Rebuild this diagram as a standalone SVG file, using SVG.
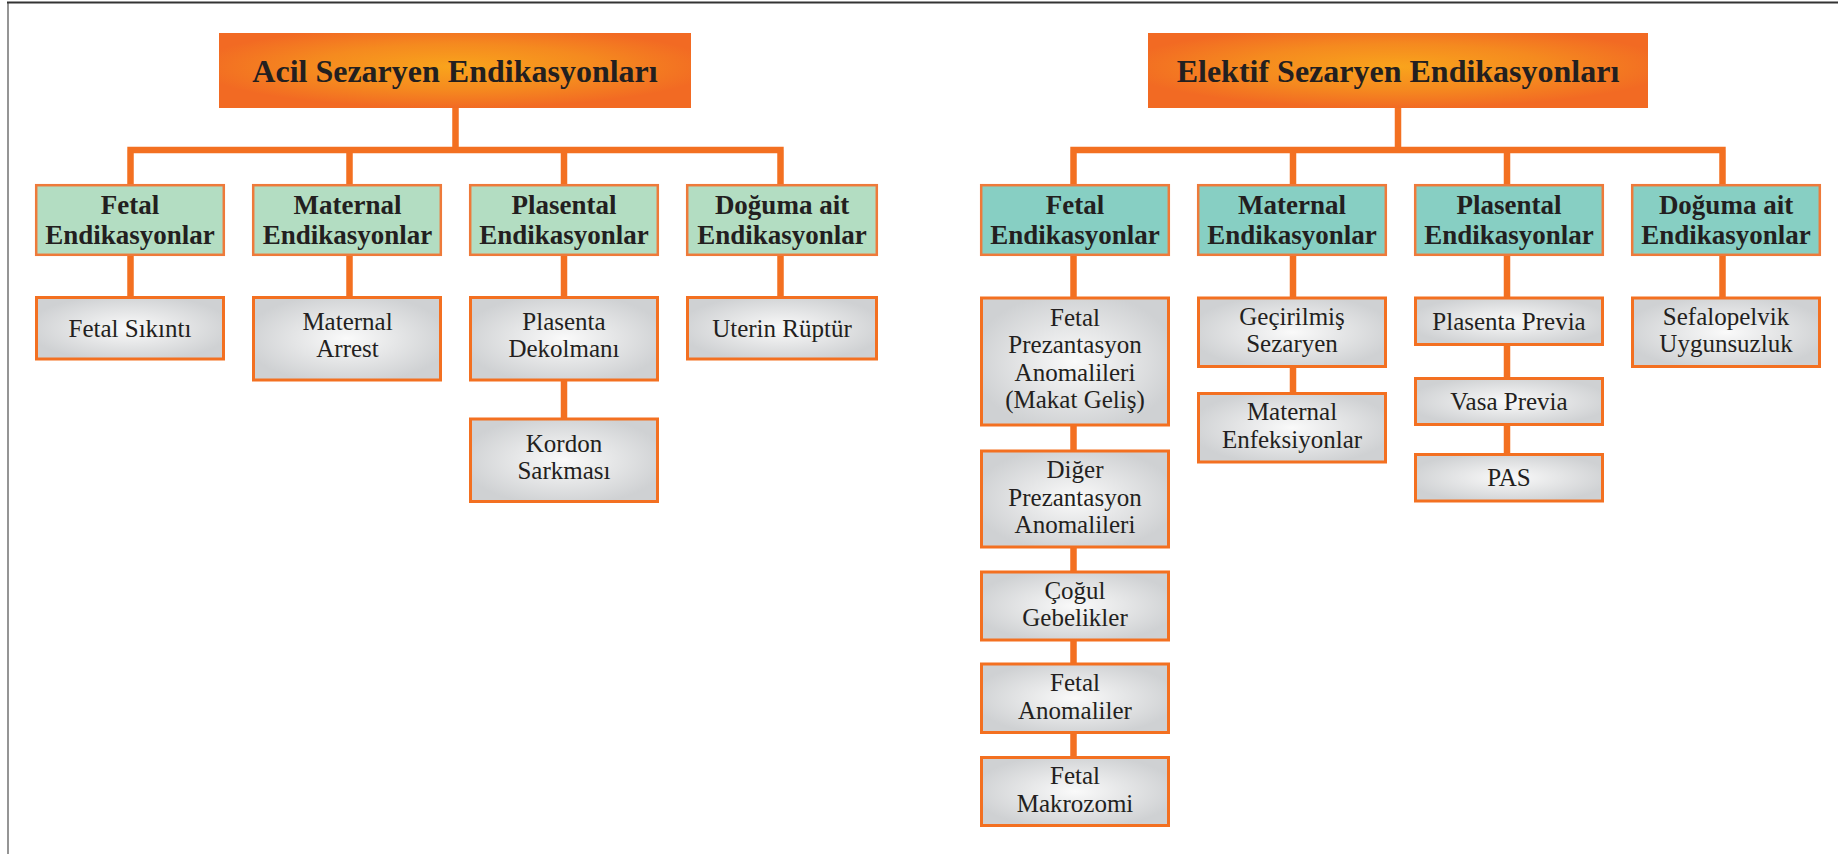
<svg xmlns="http://www.w3.org/2000/svg" width="1838" height="854" viewBox="0 0 1838 854">
  <defs>
    <radialGradient id="gTitle" cx="0.5" cy="0.45" r="0.55">
      <stop offset="0" stop-color="#F9A41C"/>
      <stop offset="0.55" stop-color="#F58A1F"/>
      <stop offset="1" stop-color="#F26A23"/>
    </radialGradient>
    <radialGradient id="gLeaf" cx="0.5" cy="0.5" r="0.55">
      <stop offset="0" stop-color="#FAFAFA"/>
      <stop offset="1" stop-color="#CFD1D3"/>
    </radialGradient>
  </defs>
  <style>
    .conn { fill: none; stroke: #F37021; stroke-width: 6.5; stroke-linecap: butt; }
    text { font-family: 'Liberation Serif', Tinos, 'Times New Roman', 'DejaVu Serif', serif; fill: #231F20; text-anchor: middle; }
    .title rect { fill: url(#gTitle); }
    .title text { font-weight: bold; font-size: 32px; }
    .cat rect { stroke: #EE7A3A; stroke-width: 2.5; }
    .acil rect { fill: #B3DDC2; }
    .elektif rect { fill: #87CFC3; }
    .cat text { font-weight: bold; font-size: 27px; }
    .leaf rect { fill: url(#gLeaf); stroke: #F37021; stroke-width: 3; }
    .leaf text { font-size: 25px; }
  </style>

  <rect width="1838" height="854" fill="#FFFFFF"/>
  <!-- page frame -->
  <line x1="8" y1="2.5" x2="8" y2="854" stroke="#8A8A8A" stroke-width="1.8"/>
  <line x1="7" y1="2.5" x2="1838" y2="2.5" stroke="#333333" stroke-width="1.8"/>

  <g id="connectors">
    <!-- Acil tree -->
    <path class="conn" d="M455.5 108 V150 M127.3 150 H783.7 M130.5 150 V184 M349.5 150 V184 M564 150 V184 M780.5 150 V184 M130.5 256 V297 M349.5 256 V297 M564 256 V297 M780.5 256 V297 M564 381 V418"/>
    <!-- Elektif tree -->
    <path class="conn" d="M1398 108 V150 M1070.3 150 H1725.7 M1073.5 150 V184 M1293 150 V184 M1507 150 V184 M1722.5 150 V184 M1073.5 256 V297 M1293 256 V297 M1507 256 V297 M1722.5 256 V297 M1073.5 426 V450 M1073.5 548 V571 M1073.5 641 V663 M1073.5 733 V756 M1293 368 V392 M1507 346 V377 M1507 426 V453"/>
  </g>

  <!-- Acil Sezaryen -->
  <g id="acil-title" class="title">
    <rect x="219" y="33" width="472" height="75"/>
    <text x="455" y="81.5" font-family="Liberation Serif, serif">Acil Sezaryen Endikasyonları</text>
  </g>
  <g id="acil-fetal" class="cat acil">
    <rect x="36.2" y="185.2" width="187.6" height="69.6"/>
    <text x="130" y="214">Fetal</text>
    <text x="130" y="243.5">Endikasyonlar</text>
  </g>
  <g id="acil-maternal" class="cat acil">
    <rect x="253.2" y="185.2" width="187.6" height="69.6"/>
    <text x="347.5" y="214">Maternal</text>
    <text x="347.5" y="243.5">Endikasyonlar</text>
  </g>
  <g id="acil-plasental" class="cat acil">
    <rect x="470.2" y="185.2" width="187.6" height="69.6"/>
    <text x="564" y="214">Plasental</text>
    <text x="564" y="243.5">Endikasyonlar</text>
  </g>
  <g id="acil-doguma" class="cat acil">
    <rect x="687.2" y="185.2" width="189.6" height="69.6"/>
    <text x="782" y="214">Doğuma ait</text>
    <text x="782" y="243.5">Endikasyonlar</text>
  </g>
  <g id="fetal-sikinti" class="leaf">
    <rect x="36.5" y="297.5" width="187" height="61.5"/>
    <text x="130" y="337">Fetal Sıkıntı</text>
  </g>
  <g id="maternal-arrest" class="leaf">
    <rect x="253.5" y="297.5" width="187" height="82.5"/>
    <text x="347.5" y="330">Maternal</text>
    <text x="347.5" y="357">Arrest</text>
  </g>
  <g id="plasenta-dekolmani" class="leaf">
    <rect x="470.5" y="297.5" width="187" height="82.5"/>
    <text x="564" y="330">Plasenta</text>
    <text x="564" y="357">Dekolmanı</text>
  </g>
  <g id="kordon-sarkmasi" class="leaf">
    <rect x="470.5" y="419" width="187" height="82.5"/>
    <text x="564" y="451.5">Kordon</text>
    <text x="564" y="478.5">Sarkması</text>
  </g>
  <g id="uterin-ruptur" class="leaf">
    <rect x="687.5" y="297.5" width="189" height="61.5"/>
    <text x="782" y="337">Uterin Rüptür</text>
  </g>

  <!-- Elektif Sezaryen -->
  <g id="elektif-title" class="title">
    <rect x="1148" y="33" width="500" height="75"/>
    <text x="1398" y="81.5">Elektif Sezaryen Endikasyonları</text>
  </g>
  <g id="elektif-fetal" class="cat elektif">
    <rect x="981.2" y="185.2" width="187.6" height="69.6"/>
    <text x="1075" y="214">Fetal</text>
    <text x="1075" y="243.5">Endikasyonlar</text>
  </g>
  <g id="elektif-maternal" class="cat elektif">
    <rect x="1198.2" y="185.2" width="187.6" height="69.6"/>
    <text x="1292" y="214">Maternal</text>
    <text x="1292" y="243.5">Endikasyonlar</text>
  </g>
  <g id="elektif-plasental" class="cat elektif">
    <rect x="1415.2" y="185.2" width="187.6" height="69.6"/>
    <text x="1509" y="214">Plasental</text>
    <text x="1509" y="243.5">Endikasyonlar</text>
  </g>
  <g id="elektif-doguma" class="cat elektif">
    <rect x="1632.2" y="185.2" width="187.6" height="69.6"/>
    <text x="1726" y="214">Doğuma ait</text>
    <text x="1726" y="243.5">Endikasyonlar</text>
  </g>
  <g id="fetal-prezantasyon" class="leaf">
    <rect x="981.5" y="298" width="187" height="127"/>
    <text x="1075" y="325.5">Fetal</text>
    <text x="1075" y="353">Prezantasyon</text>
    <text x="1075" y="380.5">Anomalileri</text>
    <text x="1075" y="408">(Makat Geliş)</text>
  </g>
  <g id="diger-prezantasyon" class="leaf">
    <rect x="981.5" y="451" width="187" height="96"/>
    <text x="1075" y="478">Diğer</text>
    <text x="1075" y="505.5">Prezantasyon</text>
    <text x="1075" y="533">Anomalileri</text>
  </g>
  <g id="cogul-gebelikler" class="leaf">
    <rect x="981.5" y="572" width="187" height="68"/>
    <text x="1075" y="598.5">Çoğul</text>
    <text x="1075" y="626">Gebelikler</text>
  </g>
  <g id="fetal-anomaliler" class="leaf">
    <rect x="981.5" y="664" width="187" height="68.5"/>
    <text x="1075" y="691">Fetal</text>
    <text x="1075" y="718.5">Anomaliler</text>
  </g>
  <g id="fetal-makrozomi" class="leaf">
    <rect x="981.5" y="757.5" width="187" height="68"/>
    <text x="1075" y="784">Fetal</text>
    <text x="1075" y="811.5">Makrozomi</text>
  </g>
  <g id="gecirilmis-sezaryen" class="leaf">
    <rect x="1198.5" y="298" width="187" height="68.5"/>
    <text x="1292" y="324.5">Geçirilmiş</text>
    <text x="1292" y="352">Sezaryen</text>
  </g>
  <g id="maternal-enfeksiyonlar" class="leaf">
    <rect x="1198.5" y="393.5" width="187" height="68.5"/>
    <text x="1292" y="420">Maternal</text>
    <text x="1292" y="447.5">Enfeksiyonlar</text>
  </g>
  <g id="plasenta-previa" class="leaf">
    <rect x="1415.5" y="298" width="187" height="46.5"/>
    <text x="1509" y="330">Plasenta Previa</text>
  </g>
  <g id="vasa-previa" class="leaf">
    <rect x="1415.5" y="378.5" width="187" height="46"/>
    <text x="1509" y="410">Vasa Previa</text>
  </g>
  <g id="pas" class="leaf">
    <rect x="1415.5" y="454.5" width="187" height="46.5"/>
    <text x="1509" y="486">PAS</text>
  </g>
  <g id="sefalopelvik" class="leaf">
    <rect x="1632.5" y="298" width="187" height="68.5"/>
    <text x="1726" y="324.5">Sefalopelvik</text>
    <text x="1726" y="352">Uygunsuzluk</text>
  </g>
</svg>
